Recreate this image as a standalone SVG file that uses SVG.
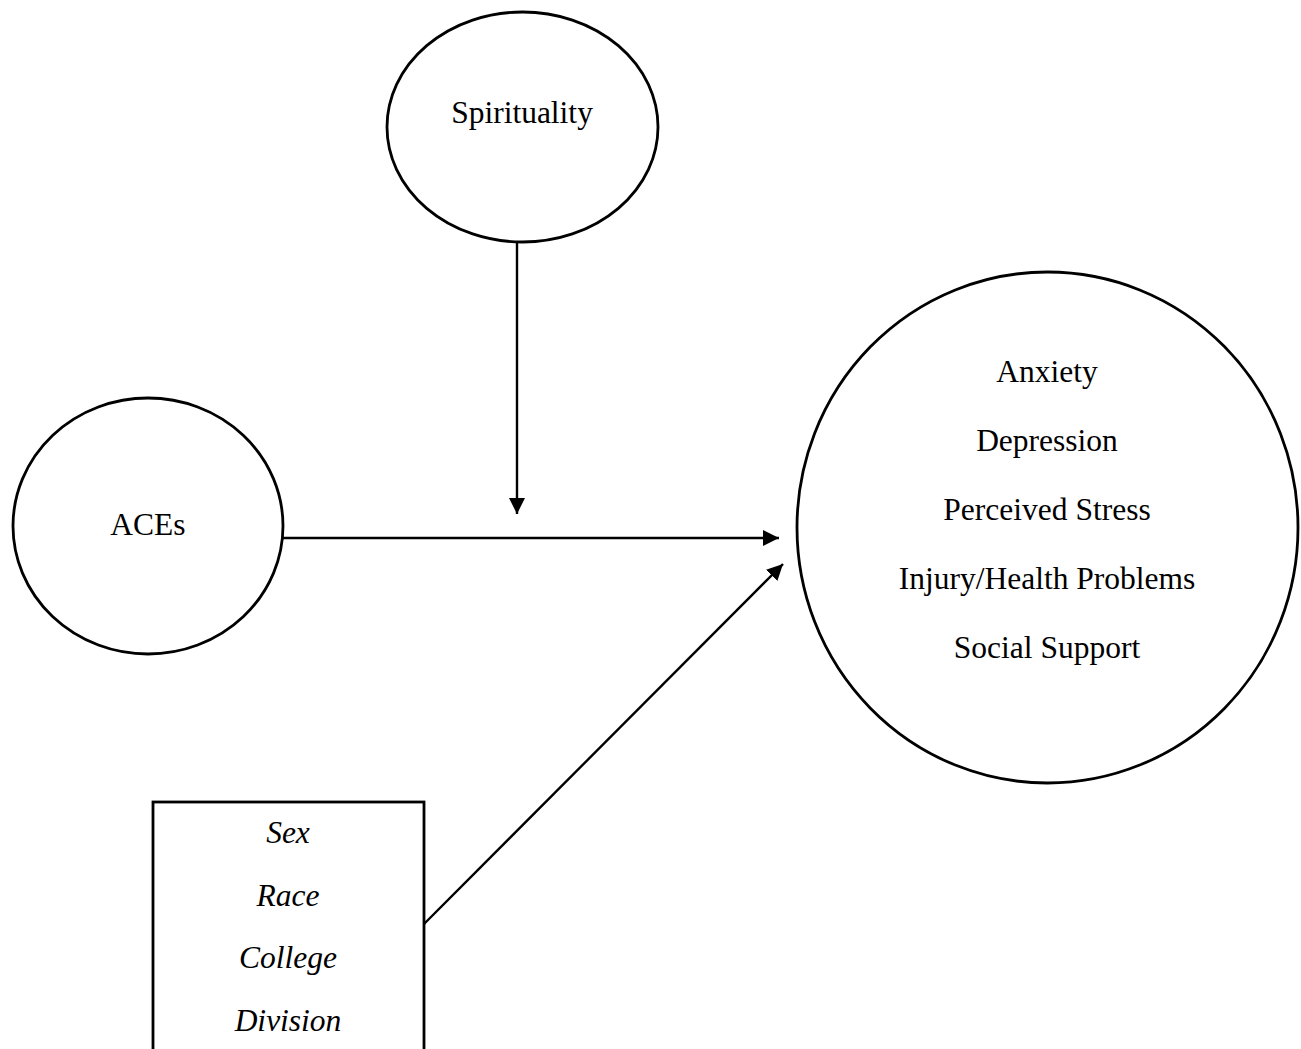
<svg xmlns="http://www.w3.org/2000/svg" width="1301" height="1049" viewBox="0 0 1301 1049">
<style>
.shape{fill:#fff;stroke:#000;stroke-width:2.8}
.t{font-family:"Liberation Serif","Times New Roman",serif;font-size:31.5px;fill:#000;text-anchor:middle}
.i{font-style:italic}
.conn{stroke:#000;stroke-width:2.4;fill:none}
</style>
<defs>
<marker id="ah" markerUnits="userSpaceOnUse" markerWidth="17" markerHeight="17" refX="16" refY="8" orient="auto">
<path d="M0,0 L16,8 L0,16 z" fill="#000"/>
</marker>
</defs>
<rect width="1301" height="1049" fill="#fff"/>
<g id="connectors">
<line class="conn" x1="517" y1="242" x2="517" y2="514" marker-end="url(#ah)"/>
<line class="conn" x1="283" y1="538" x2="779" y2="538" marker-end="url(#ah)"/>
<line class="conn" x1="424" y1="924" x2="783" y2="564" marker-end="url(#ah)"/>
</g>
<g id="spirituality">
<ellipse class="shape" cx="522.5" cy="127" rx="135.5" ry="115"/>
<text class="t" x="522" y="123">Spirituality</text>
</g>
<g id="aces">
<ellipse class="shape" cx="148" cy="526" rx="135" ry="128"/>
<text class="t" x="148" y="535">ACEs</text>
</g>
<g id="outcomes">
<ellipse class="shape" cx="1047.5" cy="527.5" rx="250.5" ry="255.5"/>
<text class="t" x="1047" y="382">Anxiety</text>
<text class="t" x="1047" y="451">Depression</text>
<text class="t" x="1047" y="520">Perceived Stress</text>
<text class="t" x="1047" y="589">Injury/Health Problems</text>
<text class="t" x="1047" y="658">Social Support</text>
</g>
<g id="covariates">
<rect class="shape" x="153" y="802" width="271" height="270"/>
<text class="t i" x="288" y="843">Sex</text>
<text class="t i" x="288" y="906">Race</text>
<text class="t i" x="288" y="968">College</text>
<text class="t i" x="288" y="1031">Division</text>
</g>
</svg>
